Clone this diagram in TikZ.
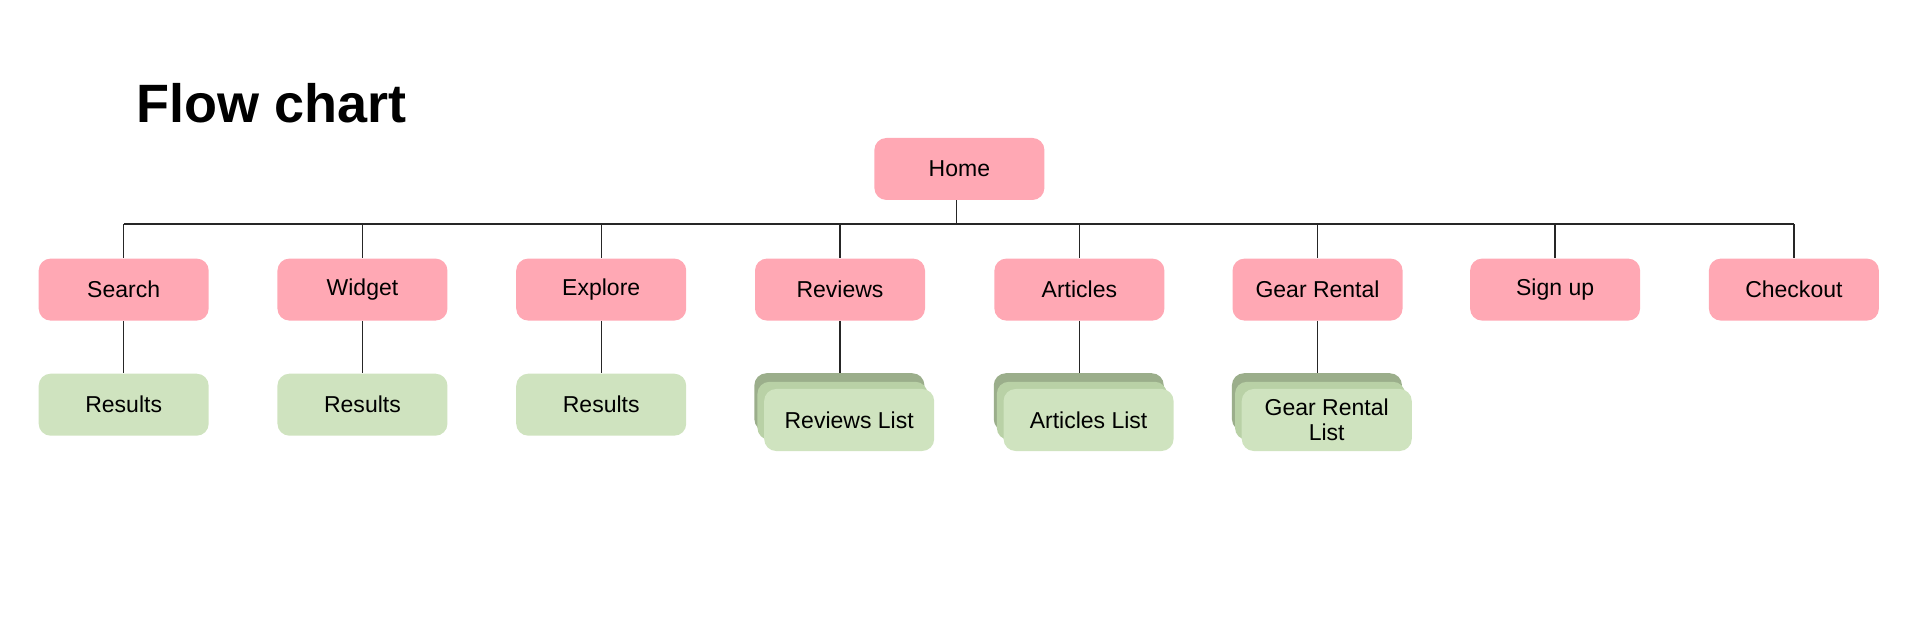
\documentclass[tikz,border=0pt]{standalone}
\usepackage{fontspec}
\setmainfont{Liberation Sans}
\begin{document}
\begin{tikzpicture}[x=0.6122pt,y=-0.6122pt,
 box/.style={rounded corners=6pt,minimum width=85pt,minimum height=31pt,inner sep=0pt,font=\fontsize{11.5}{12.5}\selectfont,align=center},
 pk/.style={box,fill=pinkc},
 gr/.style={box,fill=greenc},
 ln/.style={draw=black!85,line width=0.7pt}]
\definecolor{pinkc}{HTML}{FFA8B4}
\definecolor{greenc}{HTML}{CFE3BF}
\definecolor{dgreen}{HTML}{9BAE8B}
\definecolor{mgreen}{HTML}{B9D1A6}
\useasboundingbox (0,0) rectangle (1568,524);
\node[anchor=base west,font=\bfseries\fontsize{27}{30}\selectfont] (title) at (106,100) {Flow chart};
\node[pk] (home) at (783.5,138) {Home};
\coordinate (bl) at (101,183);
\coordinate (br) at (1465,183);
\coordinate (bh) at (781,183);
\draw[ln] (bl) -- (br);
\draw[ln] (home.south -| bh) -- (bh);
\foreach \n/\x/\t in {search/101/Search,widget/296/Widget,explore/491/Explore,reviews/686/Reviews,articles/881.5/Articles,gear/1076/Gear Rental,sign/1270/Sign up/Login,checkout/1465/Checkout}{
 \node[pk] (\n) at (\x,236.5) {\t};
 \coordinate (\n-t) at (\x,183);
 \draw[ln] (\n-t) -- (\n.north);
}
\foreach \n/\x in {r1/101,r2/296,r3/491}{
 \node[gr] (\n) at (\x,330.5) {Results};
}
\draw[ln] (search.south) -- (r1.north);
\draw[ln] (widget.south) -- (r2.north);
\draw[ln] (explore.south) -- (r3.north);
\foreach \n/\p/\x/\t in {rl/reviews/686/Reviews List,al/articles/881.5/Articles List,gl/gear/1076/Gear Rental\\List}{
 \node[box,fill=dgreen,minimum height=29pt] (\n-b) at (\x-0.5,328.5) {};
 \node[box,fill=mgreen,minimum height=29pt] (\n-m) at (\x+2,335.5) {};
 \node[gr,minimum height=31pt] (\n) at (\x+7.5,343) {\t};
 \draw[ln] (\p.south) -- (\p.south |- \n-b.north);
}
\end{tikzpicture}
\end{document}
